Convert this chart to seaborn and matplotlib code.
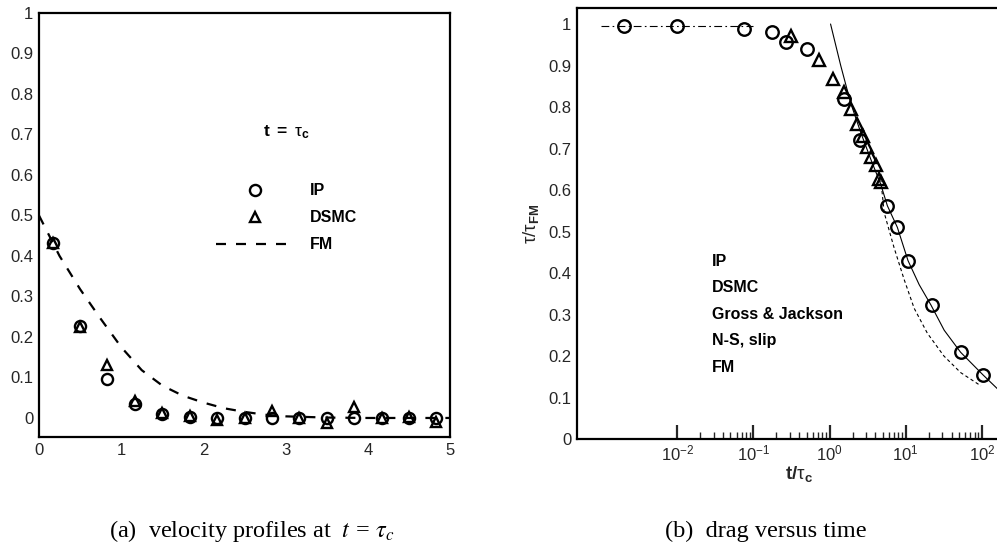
import matplotlib
matplotlib.use("Agg")
import matplotlib.pyplot as plt
import seaborn as sns
import pandas as pd
from matplotlib.ticker import FixedLocator, NullFormatter

# ---------------- data: (a) velocity profiles ----------------
z_pos = [0.167, 0.5, 0.833, 1.167, 1.5, 1.833, 2.167, 2.5, 2.833, 3.167, 3.5, 3.833, 4.167, 4.5, 4.833]
u_ip = [0.433, 0.228, 0.096, 0.035, 0.010, 0.003, 0.000, 0.000, 0.000, 0.000, 0.000, 0.000, 0.000, 0.000, 0.000]
u_dsmc = [0.433, 0.225, 0.131, 0.043, 0.012, 0.004, -0.004, 0.001, 0.018, 0.001, -0.012, 0.028, 0.001, 0.002, -0.010]
fm_z = [0.0, 0.25, 0.5, 0.75, 1.0, 1.25, 1.5, 1.75, 2.0, 2.25, 2.5, 2.75, 3.0, 3.5, 4.0, 5.0]
fm_u = [0.500, 0.400, 0.318, 0.245, 0.175, 0.118, 0.080, 0.055, 0.038, 0.024, 0.015, 0.008, 0.004, 0.001, 0.0, 0.0]
left_labels = ["IP", "DSMC", "FM"]
left_xticks = [0, 1, 2, 3, 4, 5]
left_yticks = [0, 0.1, 0.2, 0.3, 0.4, 0.5, 0.6, 0.7, 0.8, 0.9, 1]
left_yticklabels = ["0", "0.1", "0.2", "0.3", "0.4", "0.5", "0.6", "0.7", "0.8", "0.9", "1"]

# ---------------- data: (b) drag versus time ----------------
ip_t = [0.002, 0.01, 0.076, 0.176, 0.27, 0.51, 1.54, 2.48, 5.74, 7.76, 10.7, 21.8, 53, 104]
ip_d = [0.995, 0.995, 0.988, 0.980, 0.956, 0.940, 0.820, 0.720, 0.562, 0.510, 0.430, 0.323, 0.209, 0.154]
dsmc_t = [0.307, 0.72, 1.10, 1.54, 1.89, 2.31, 2.74, 3.07, 3.54, 4.03, 4.46, 4.78]
dsmc_d = [0.972, 0.913, 0.867, 0.835, 0.795, 0.760, 0.730, 0.704, 0.680, 0.660, 0.626, 0.620]
gj_t = [0.001, 0.1]
gj_d = [0.995, 0.995]
ns_t = [1.03, 1.40, 1.89, 2.56, 3.46, 4.69, 5.74, 7.76, 10.7, 15.0, 21.4, 32.0, 52.5, 104, 162]
ns_d = [1.0, 0.9, 0.81, 0.739, 0.675, 0.614, 0.562, 0.51, 0.43, 0.372, 0.323, 0.262, 0.209, 0.154, 0.12]
fmr_t = [4.7, 5.2, 7.0, 9.5, 12.9, 19.2, 31.7, 52.6, 97]
fmr_d = [0.627, 0.546, 0.462, 0.385, 0.315, 0.255, 0.200, 0.160, 0.128]
right_labels = ["IP", "DSMC", "Gross & Jackson", "N-S, slip", "FM"]
right_xticks = [1e-2, 1e-1, 1e0, 1e1, 1e2]
right_xticklabels = ["$10^{-2}$", "$10^{-1}$", "$10^{0}$", "$10^{1}$", "$10^{2}$"]
right_yticks = left_yticks[:]
right_yticklabels = left_yticklabels[:]

captions = [r"(a)  velocity profiles at  $\mathit{t}\,=\,\mathit{\tau}_{\mathit{c}}$",
            "(b)  drag versus time"]

# ---------------- style ----------------
sns.set_theme(style="white")
plt.rcParams["font.family"] = ["Liberation Sans", "DejaVu Sans"]
plt.rcParams["mathtext.fontset"] = "custom"
plt.rcParams["mathtext.rm"] = "Liberation Sans"
plt.rcParams["mathtext.it"] = "Liberation Sans:italic"
plt.rcParams["mathtext.bf"] = "Liberation Sans:bold"
plt.rcParams["mathtext.sf"] = "Liberation Sans"
plt.rcParams["mathtext.default"] = "regular"
plt.rcParams["axes.unicode_minus"] = False
plt.rcParams["axes.linewidth"] = 1.6
plt.rcParams["axes.edgecolor"] = "black"
plt.rcParams["text.color"] = "black"

W, H = 997, 552
fig = plt.figure(figsize=(W / 100, H / 100), dpi=100)
fig.patch.set_facecolor("white")

def px_axes(l, t, r, b):
    return fig.add_axes([l / W, 1 - b / H, (r - l) / W, (b - t) / H])

TICK_FS = 12
LEG_FS = 11.5

# ================= (a) =================
axa = px_axes(39, 13, 450, 437)
df_ip = pd.DataFrame({"z": z_pos, "u": u_ip})
df_ds = pd.DataFrame({"z": z_pos, "u": u_dsmc})
df_fm = pd.DataFrame({"z": fm_z, "u": fm_u})

sns.lineplot(data=df_ip, x="z", y="u", ax=axa, estimator=None, sort=False,
             linestyle="", marker="o", markersize=8, markerfacecolor="none",
             markeredgecolor="black", markeredgewidth=1.7, color="black",
             label=left_labels[0])
sns.lineplot(data=df_ds, x="z", y="u", ax=axa, estimator=None, sort=False,
             linestyle="", marker="^", markersize=7.5, markerfacecolor="none",
             markeredgecolor="black", markeredgewidth=1.7, color="black",
             label=left_labels[1])
sns.lineplot(data=df_fm, x="z", y="u", ax=axa, estimator=None, sort=False,
             color="black", linewidth=1.6, dashes=False, label=left_labels[2])
axa.lines[-1].set_dashes([4.5, 4.5])

axa.set_xlim(0, 5)
axa.set_ylim(-0.047, 1.0)
axa.set_xticks(left_xticks)
axa.set_xticklabels([str(v) for v in left_xticks], fontsize=TICK_FS)
axa.set_yticks(left_yticks)
axa.set_yticklabels(left_yticklabels, fontsize=TICK_FS)
axa.tick_params(length=0, pad=4)
axa.set_xlabel("")
axa.set_ylabel("")
for s in axa.spines.values():
    s.set_visible(True)
    s.set_linewidth(1.6)

leg = axa.legend(loc="upper left", bbox_to_anchor=(0.430, 0.598), frameon=False,
                 fontsize=LEG_FS, handlelength=4.9, handletextpad=1.0,
                 labelspacing=0.75, borderpad=0, borderaxespad=0)
for t in leg.get_texts():
    t.set_fontweight("bold")

axa.text(0.603, 0.719, r"$\mathbf{t\ =\ }\tau_{\mathbf{c}}$", transform=axa.transAxes,
         ha="center", va="center", fontsize=12.5)

# ================= (b) =================
axb = px_axes(577, 8, 1020, 439)
df_ipb = pd.DataFrame({"t": ip_t, "d": ip_d})
df_dsb = pd.DataFrame({"t": dsmc_t, "d": dsmc_d})
df_gj = pd.DataFrame({"t": gj_t, "d": gj_d})
df_ns = pd.DataFrame({"t": ns_t, "d": ns_d})
df_fmb = pd.DataFrame({"t": fmr_t, "d": fmr_d})

sns.lineplot(data=df_gj, x="t", y="d", ax=axb, estimator=None, sort=False,
             color="black", linewidth=0.8)
axb.lines[-1].set_dashes([7, 3, 1.5, 3])
sns.lineplot(data=df_ns, x="t", y="d", ax=axb, estimator=None, sort=False,
             color="black", linewidth=0.8)
sns.lineplot(data=df_fmb, x="t", y="d", ax=axb, estimator=None, sort=False,
             color="black", linewidth=0.8)
axb.lines[-1].set_dashes([3, 2.5])
sns.lineplot(data=df_ipb, x="t", y="d", ax=axb, estimator=None, sort=False,
             linestyle="", marker="o", markersize=9, markerfacecolor="none",
             markeredgecolor="black", markeredgewidth=1.7, color="black")
sns.lineplot(data=df_dsb, x="t", y="d", ax=axb, estimator=None, sort=False,
             linestyle="", marker="^", markersize=8, markerfacecolor="none",
             markeredgecolor="black", markeredgewidth=1.7, color="black")

axb.set_xscale("log")
axb.set_xlim(10 ** -3.316, 10 ** 2.5)
axb.set_ylim(0, 1.0386)
axb.xaxis.set_major_locator(FixedLocator(right_xticks))
axb.set_xticklabels(right_xticklabels, fontsize=TICK_FS)
minors = [m * 10.0 ** k for k in range(-2, 3) for m in range(2, 10)]
axb.xaxis.set_minor_locator(FixedLocator(minors))
axb.xaxis.set_minor_formatter(NullFormatter())
axb.tick_params(axis="x", which="major", direction="in", length=10, width=1.6, pad=3, bottom=True)
axb.tick_params(axis="x", which="minor", direction="in", length=5, width=1.0, bottom=True)
axb.set_yticks(right_yticks)
axb.set_yticklabels(right_yticklabels, fontsize=TICK_FS)
axb.tick_params(axis="y", length=0, pad=4)
axb.set_xlabel(r"$\mathbf{t/}\tau_{\mathbf{c}}$", fontsize=13.5, labelpad=1)
axb.set_ylabel(r"$\tau/\tau_{\mathbf{FM}}$", fontsize=13.5, labelpad=5)
for s in axb.spines.values():
    s.set_visible(True)
    s.set_linewidth(1.6)

row_y = [0.411, 0.352, 0.289, 0.228, 0.167]
for lab, yy in zip(right_labels, row_y):
    axb.text(0.304, yy, lab, transform=axb.transAxes, ha="left", va="center",
             fontsize=LEG_FS, fontweight="bold")

# ================= captions =================
fig.text(252 / W, 1 - 531 / H, captions[0], ha="center", va="center",
         fontsize=17.5, family=["Liberation Serif", "DejaVu Serif"], math_fontfamily="stix")
fig.text(766 / W, 1 - 531 / H, captions[1], ha="center", va="center",
         fontsize=17.5, family=["Liberation Serif", "DejaVu Serif"])

fig.savefig("out.png", dpi=100, facecolor="white")
